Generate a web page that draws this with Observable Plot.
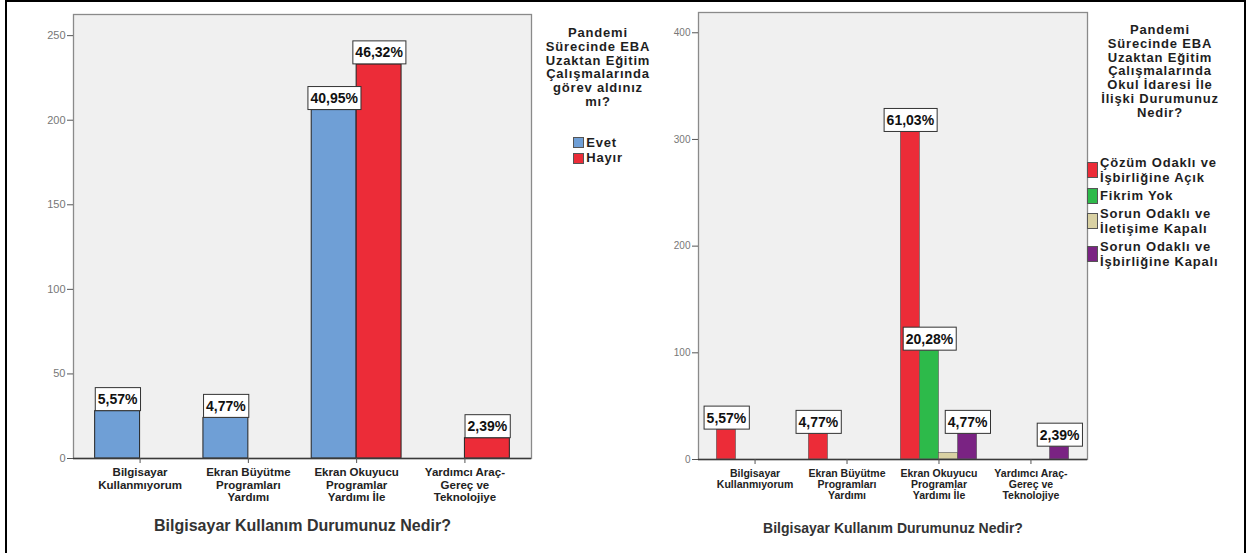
<!DOCTYPE html>
<html><head><meta charset="utf-8">
<script src="https://cdn.jsdelivr.net/npm/d3@7"></script>
<script src="https://cdn.jsdelivr.net/npm/@observablehq/plot@0.6"></script>
<style>
body{margin:0;background:#fff;font-family:"Liberation Sans",Arial,sans-serif;}
#page{position:relative;width:1249px;height:553px;overflow:hidden;background:#fff;}
#border{position:absolute;left:5px;top:0;width:1241px;height:560px;border:2px solid #000;box-sizing:border-box;}
.chart{position:absolute;top:0;}
.chart svg{overflow:visible;}
.legend{position:absolute;font-weight:bold;color:#1e1e1e;font-size:13px;letter-spacing:0.8px;}
.legend .title{white-space:pre-line;text-align:center;line-height:13.8px;}
.legend .items{display:inline-block;text-align:left;}
.legend .item{display:flex;align-items:center;white-space:pre-line;}
.legend .sw{width:11px;height:12px;border:1px solid #555;box-sizing:border-box;margin-right:2px;flex:none;}
g[aria-label="x-axis tick label"] text{font-weight:bold;}
</style></head><body>
<div id="page"><div id="border"></div></div>
<script>
// ---------- shared data ----------
const categories = ["Bilgisayar Kullanmıyorum","Ekran Büyütme Programları Yardımı","Ekran Okuyucu Programlar Yardımı İle","Yardımcı Araç-Gereç ve Teknolojiye"];
const tickLabels = ["Bilgisayar\nKullanmıyorum","Ekran Büyütme\nProgramları\nYardımı","Ekran Okuyucu\nProgramlar\nYardımı İle","Yardımcı Araç-\nGereç ve\nTeknolojiye"];
const xTitle = "Bilgisayar Kullanım Durumunuz Nedir?";

// ---------- left chart ----------
const seriesLeft = ["Evet","Hayır"];
const colorsLeft = ["#6f9fd6","#ec2c38"];
const countsEvet  = [28, 24, 206, 0];
const countsHayir = [0, 0, 233, 12];
const pctEvet  = ["5,57%","4,77%","40,95%",""];
const pctHayir = ["","","46,32%","2,39%"];
const yTicksLeft = [0,50,100,150,200,250];
const yMaxLeft = 262.5;
const legendTitleLeft = "Pandemi\nSürecinde EBA\nUzaktan Eğitim\nÇalışmalarında\ngörev aldınız\nmı?";

// ---------- right chart ----------
const seriesRight = ["Çözüm Odaklı ve İşbirliğine Açık","Fikrim Yok","Sorun Odaklı ve İletişime Kapalı","Sorun Odaklı ve İşbirliğine Kapalı"];
const legendLabelsRight = ["Çözüm Odaklı ve\nİşbirliğine Açık","Fikrim Yok","Sorun Odaklı ve\nİletişime Kapalı","Sorun Odaklı ve\nİşbirliğine Kapalı"];
const colorsRight = ["#ec2c38","#2dba4a","#d9d1a3","#7a2383"];
const countsCozum     = [28, 24, 307, 0];
const countsFikrim    = [0, 0, 102, 0];
const countsIletisim  = [0, 0, 6, 0];
const countsIsbirligi = [0, 0, 24, 12];
const pctCozum     = ["5,57%","4,77%","61,03%",""];
const pctFikrim    = ["","","20,28%",""];
const pctIletisim  = ["","","",""];
const pctIsbirligi = ["","","4,77%","2,39%"];
const yTicksRight = [0,100,200,300,400];
const yMaxRight = 419;
const legendTitleRight = "Pandemi\nSürecinde EBA\nUzaktan Eğitim\nÇalışmalarında\nOkul İdaresi İle\nİlişki Durumunuz\nNedir?";

function makeChart(o) {
  const k = o.series.length;
  const pI = 0.17, pO = 0.2;
  const W = o.width - o.marginLeft - o.marginRight;
  const step = W / (categories.length - pI + 2 * pO);
  const bw = step * (1 - pI);
  const slot = bw / k;
  const rows = [];
  o.series.forEach((s, i) => categories.forEach((c, j) =>
    rows.push({series: s, i, category: c, count: o.counts[i][j], pct: o.pcts[i][j]})));
  const marks = [Plot.frame({fill: "#f0f0f0"})];
  o.series.forEach((s, i) => {
    marks.push(Plot.barY(rows.filter(d => d.i === i && d.count > 0), {
      x: "category", y: "count", fill: o.colors[i],
      stroke: o.barStroke, strokeWidth: o.barStrokeWidth,
      insetLeft: i * slot, insetRight: (k - 1 - i) * slot
    }));
  });
  marks.push(Plot.frame({stroke: "#8a8a8a", strokeWidth: 1.3}));
  marks.push(Plot.ruleY([0], {stroke: "#3a3a3a", strokeWidth: 1.4}));
  marks.push(Plot.axisY({ticks: o.yTicks, tickSize: 6, tickPadding: 2, fontSize: o.yFont, fill: "#777", stroke: "#555", label: null}));
  marks.push(Plot.axisX({tickSize: 5, tickPadding: 4, fontSize: o.xFont, fill: "#222", stroke: "#555", lineHeight: 1.08, label: null,
    tickFormat: d => tickLabels[categories.indexOf(d)]}));
  marks.push(Plot.text([xTitle], {frameAnchor: "bottom", text: d => d, dy: o.titleDy, fontSize: o.titleFont, fontWeight: "bold", fill: "#333"}));
  o.series.forEach((s, i) => {
    marks.push(Plot.text(rows.filter(d => d.i === i && d.pct), {
      x: "category", y: "count", text: "pct", dx: (i - (k - 1) / 2) * slot, dy: -11.5,
      fontSize: 14, fontWeight: "bold", fill: "#111"
    }));
  });
  const svg = Plot.plot({
    width: o.width, height: o.height,
    marginLeft: o.marginLeft, marginRight: o.marginRight, marginTop: o.marginTop, marginBottom: o.marginBottom,
    style: {background: "transparent", fontFamily: "'Liberation Sans', Arial, sans-serif"},
    x: {type: "band", domain: categories, paddingInner: pI, paddingOuter: pO, round: false, axis: null},
    y: {domain: [0, o.yMax], axis: null},
    marks
  });
  const div = document.createElement("div");
  div.className = "chart";
  div.style.left = o.left + "px";
  div.appendChild(svg);
  document.getElementById("page").appendChild(div);
  // white boxes behind the percentage labels
  const labelTexts = Array.from(svg.querySelectorAll("text")).filter(t => /%$/.test(t.textContent.trim()));
  labelTexts.forEach(t => {
    const bb = t.getBBox();
    const h = 23, w = bb.width + 5;
    const r = document.createElementNS("http://www.w3.org/2000/svg", "rect");
    r.setAttribute("x", bb.x + bb.width / 2 - w / 2);
    r.setAttribute("y", bb.y + bb.height / 2 - h / 2);
    r.setAttribute("width", w);
    r.setAttribute("height", h);
    r.setAttribute("fill", "#fff");
    r.setAttribute("stroke", "#333");
    r.setAttribute("stroke-width", "1");
    const tr = t.getAttribute("transform");
    if (tr) r.setAttribute("transform", tr);
    t.parentNode.insertBefore(r, t);
  });
}

function makeLegend(o) {
  const lg = document.createElement("div");
  lg.className = "legend";
  lg.style.left = o.left + "px";
  lg.style.top = o.top + "px";
  lg.style.width = o.width + "px";
  const t = document.createElement("div");
  t.className = "title";
  t.textContent = o.title;
  lg.appendChild(t);
  const wrap = document.createElement("div");
  wrap.style.textAlign = o.itemsAlign;
  wrap.style.marginTop = o.gap + "px";
  if (o.itemsOffset) wrap.style.marginLeft = o.itemsOffset + "px";
  const items = document.createElement("div");
  items.className = "items";
  o.labels.forEach((lab, i) => {
    const it = document.createElement("div");
    it.className = "item";
    it.style.lineHeight = o.lineHeight + "px";
    it.style.marginBottom = o.itemGap + "px";
    const sw = document.createElement("div");
    sw.className = "sw";
    sw.style.background = o.colors[i];
    sw.style.height = o.swH + "px";
    const tx = document.createElement("span");
    tx.textContent = lab;
    it.appendChild(sw); it.appendChild(tx);
    items.appendChild(it);
  });
  wrap.appendChild(items);
  lg.appendChild(wrap);
  document.getElementById("page").appendChild(lg);
}

makeChart({
  left: 0, width: 545, height: 553, marginLeft: 73, marginRight: 14, marginTop: 14, marginBottom: 95,
  series: seriesLeft, colors: colorsLeft, counts: [countsEvet, countsHayir], pcts: [pctEvet, pctHayir],
  yTicks: yTicksLeft, yMax: yMaxLeft, yFont: 11, xFont: 11.5, titleFont: 16, titleDy: 72,
  barStroke: "#222", barStrokeWidth: 1
});
makeChart({
  left: 630, width: 467, height: 553, marginLeft: 68, marginRight: 10, marginTop: 12, marginBottom: 94,
  series: seriesRight, colors: colorsRight,
  counts: [countsCozum, countsFikrim, countsIletisim, countsIsbirligi],
  pcts: [pctCozum, pctFikrim, pctIletisim, pctIsbirligi],
  yTicks: yTicksRight, yMax: yMaxRight, yFont: 10, xFont: 10.5, titleFont: 14, titleDy: 73,
  barStroke: "#555", barStrokeWidth: 0.6
});
makeLegend({left: 536, top: 26, width: 124, title: legendTitleLeft, labels: seriesLeft, colors: colorsLeft,
  itemsAlign: "center", gap: 26, lineHeight: 15.5, itemGap: 0, swH: 11});
makeLegend({left: 1092, top: 23, width: 136, title: legendTitleRight, labels: legendLabelsRight, colors: colorsRight,
  itemsAlign: "left", gap: 35, lineHeight: 15.5, itemGap: 2, swH: 16, itemsOffset: -5});
</script>
</body></html>
